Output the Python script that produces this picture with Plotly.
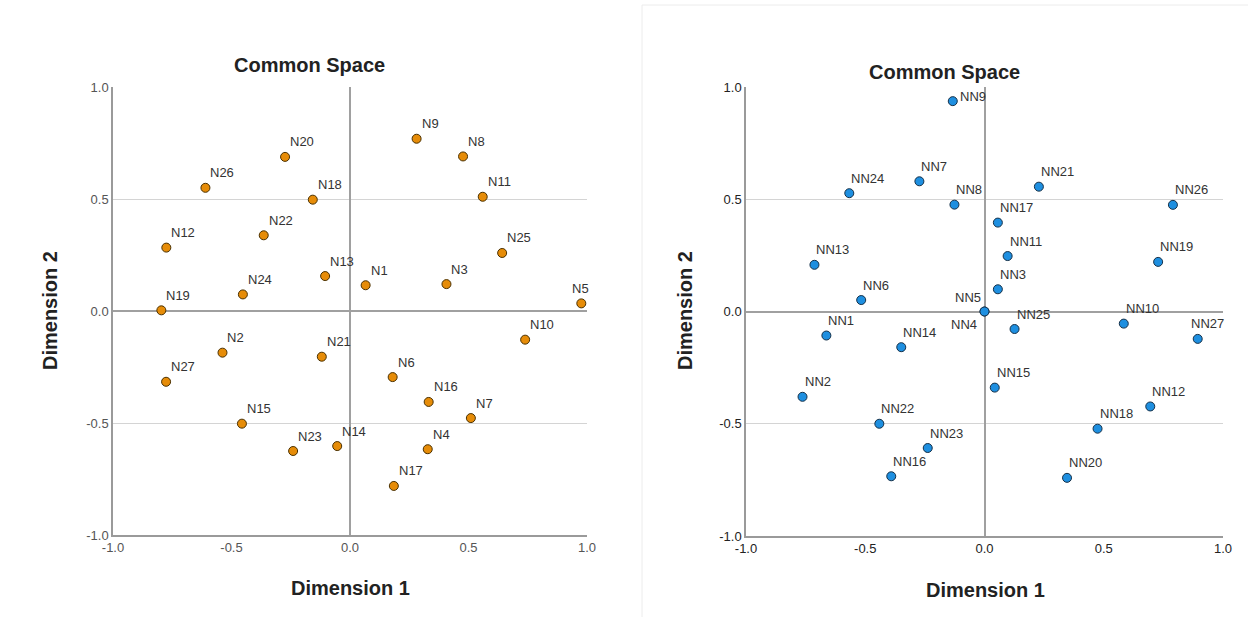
import plotly.graph_objects as go

# ---- data ----
left_names = ["N1", "N2", "N3", "N4", "N5", "N6", "N7", "N8", "N9", "N10",
              "N11", "N12", "N13", "N14", "N15", "N16", "N17", "N18", "N19", "N20",
              "N21", "N22", "N23", "N24", "N25", "N26", "N27"]
left_dim1 = [0.066, -0.538, 0.407, 0.328, 0.976, 0.180, 0.510, 0.477, 0.281, 0.739,
             0.560, -0.775, -0.105, -0.054, -0.456, 0.332, 0.185, -0.157, -0.796, -0.274,
             -0.119, -0.364, -0.240, -0.452, 0.642, -0.610, -0.776]
left_dim2 = [0.115, -0.186, 0.120, -0.617, 0.034, -0.295, -0.478, 0.690, 0.769, -0.128,
             0.510, 0.283, 0.156, -0.603, -0.503, -0.406, -0.781, 0.497, 0.003, 0.688,
             -0.204, 0.338, -0.625, 0.074, 0.259, 0.550, -0.316]

right_names = ["NN1", "NN2", "NN3", "NN4", "NN5", "NN6", "NN7", "NN8", "NN9", "NN10",
               "NN11", "NN12", "NN13", "NN14", "NN15", "NN16", "NN17", "NN18", "NN19", "NN20",
               "NN21", "NN22", "NN23", "NN24", "NN25", "NN26", "NN27"]
right_dim1 = [-0.663, -0.763, 0.056, 0.000, 0.000, -0.517, -0.273, -0.126, -0.133, 0.584,
              0.097, 0.695, -0.713, -0.349, 0.043, -0.391, 0.056, 0.474, 0.728, 0.346,
              0.228, -0.441, -0.238, -0.567, 0.126, 0.790, 0.894]
right_dim2 = [-0.107, -0.380, 0.099, 0.000, 0.000, 0.051, 0.580, 0.476, 0.937, -0.054,
              0.247, -0.423, 0.208, -0.159, -0.339, -0.734, 0.396, -0.522, 0.221, -0.741,
              0.556, -0.500, -0.608, 0.527, -0.078, 0.475, -0.122]

tick_vals = [-1.0, -0.5, 0.0, 0.5, 1.0]
tick_text = ["-1.0", "-0.5", "0.0", "0.5", "1.0"]

title_text = "Common Space"
xtitle = "Dimension 1"
ytitle = "Dimension 2"

# ---- label placement overrides (style) ----
label_over = {
    "N5": dict(xanchor="left", xshift=-11, yshift=15),
    "NN9": dict(xanchor="left", xshift=5, yshift=5),
    "NN5": dict(xanchor="right", xshift=-2, yshift=14),
    "NN4": dict(xanchor="right", xshift=-6, yshift=-13),
    "NN27": dict(xanchor="left", xshift=-9, yshift=15),
}

FONT = "Liberation Sans, Arial, sans-serif"

fig = go.Figure()

fig.add_trace(go.Scatter(
    x=left_dim1, y=left_dim2, mode="markers", xaxis="x", yaxis="y",
    marker=dict(size=9, color="#E68C08", line=dict(color="#4a3000", width=1)),
    cliponaxis=False, hoverinfo="text", text=left_names, showlegend=False))
fig.add_trace(go.Scatter(
    x=right_dim1, y=right_dim2, mode="markers", xaxis="x2", yaxis="y2",
    marker=dict(size=9, color="#1E8FE0", line=dict(color="#153048", width=1)),
    cliponaxis=False, hoverinfo="text", text=right_names, showlegend=False))

annotations = []
def add_labels(names, xs, ys, xref, yref, default_xshift):
    for n, x, y in zip(names, xs, ys):
        o = label_over.get(n, dict(xanchor="left", xshift=default_xshift, yshift=15))
        annotations.append(dict(
            x=x, y=y, xref=xref, yref=yref, text=n, showarrow=False,
            xanchor=o["xanchor"], yanchor="middle", xshift=o["xshift"], yshift=o["yshift"],
            font=dict(family=FONT, size=13, color="#333333")))

add_labels(left_names, left_dim1, left_dim2, "x", "y", 3)
add_labels(right_names, right_dim1, right_dim2, "x2", "y2", 0)

# titles
for (tx, ty) in [(309 / 1248, 1 - 65 / 617), (944 / 1248, 1 - 72 / 617)]:
    annotations.append(dict(x=tx, y=ty, xref="paper", yref="paper", text="<b>%s</b>" % title_text,
                            showarrow=False, xanchor="center", yanchor="middle",
                            font=dict(family=FONT, size=20, color="#222222")))
for (tx, ty) in [(350 / 1248, 1 - 588 / 617), (985 / 1248, 1 - 590 / 617)]:
    annotations.append(dict(x=tx, y=ty, xref="paper", yref="paper", text="<b>%s</b>" % xtitle,
                            showarrow=False, xanchor="center", yanchor="middle",
                            font=dict(family=FONT, size=20, color="#222222")))
for (tx, ty) in [(50 / 1248, 1 - 311 / 617), (685 / 1248, 1 - 311 / 617)]:
    annotations.append(dict(x=tx, y=ty, xref="paper", yref="paper", text="<b>%s</b>" % ytitle,
                            showarrow=False, xanchor="center", yanchor="middle", textangle=-90,
                            font=dict(family=FONT, size=20, color="#222222")))

def xax(domain, tickcolor):
    return dict(domain=domain, range=[-1, 1], tickvals=tick_vals, ticktext=tick_text,
                automargin=False,
                showgrid=False, zeroline=True, zerolinecolor="#a0a0a0", zerolinewidth=1.5,
                showline=True, linecolor="#9a9a9a", linewidth=1.5, ticks="", fixedrange=True,
                tickfont=dict(family=FONT, size=13, color=tickcolor))

def yax(domain, anchor, tickcolor):
    return dict(domain=domain, range=[-1, 1], tickvals=tick_vals, ticktext=tick_text,
                anchor=anchor, automargin=False, showgrid=True, gridcolor="#d4d4d4", gridwidth=1,
                zeroline=True, zerolinecolor="#a0a0a0", zerolinewidth=1.5,
                showline=True, linecolor="#9a9a9a", linewidth=1.5, ticks="", fixedrange=True,
                tickfont=dict(family=FONT, size=13, color=tickcolor))

fig.update_layout(
    width=1248, height=617,
    margin=dict(l=0, r=0, t=0, b=0, autoexpand=False),
    paper_bgcolor="white", plot_bgcolor="white",
    xaxis=dict(**xax([113 / 1248, 587 / 1248], "#555555"), anchor="y"),
    yaxis=yax([1 - 535 / 617, 1 - 87 / 617], "x", "#555555"),
    xaxis2=dict(**xax([746 / 1248, 1223 / 1248], "#222222"), anchor="y2"),
    yaxis2=yax([1 - 536 / 617, 1 - 87 / 617], "x2", "#222222"),
    annotations=annotations,
    shapes=[
        dict(type="line", xref="paper", yref="paper", x0=642 / 1248, x1=642 / 1248,
             y0=0, y1=1 - 5 / 617, line=dict(color="#ececec", width=1)),
        dict(type="line", xref="paper", yref="paper", x0=642 / 1248, x1=1,
             y0=1 - 5 / 617, y1=1 - 5 / 617, line=dict(color="#ececec", width=1)),
    ],
    showlegend=False,
)

fig.write_html("out.html", post_script="document.body.style.margin='0';",
               config={"displayModeBar": False})
